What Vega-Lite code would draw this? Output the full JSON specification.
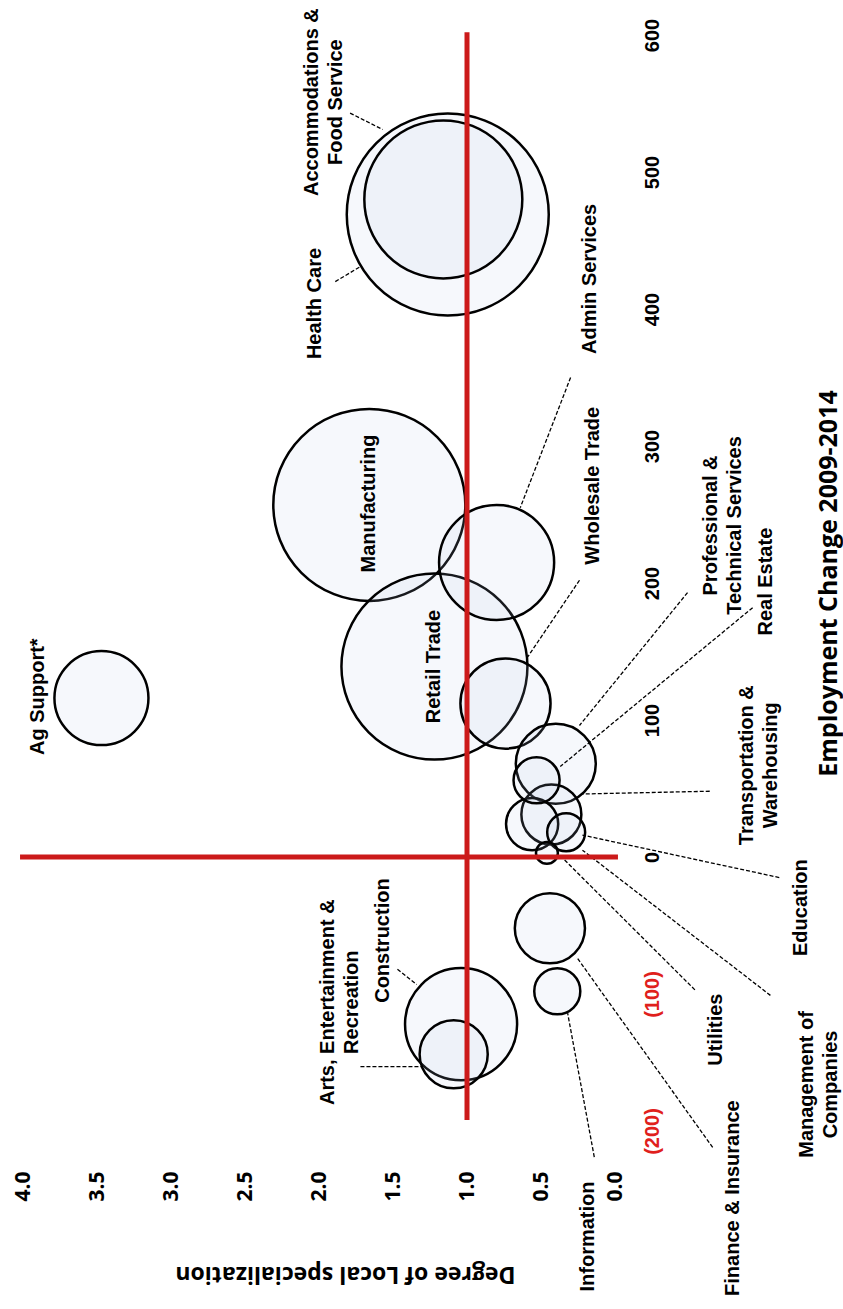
{
  "$schema": "https://vega.github.io/schema/vega-lite/v6.json",
  "width": 592,
  "height": 1096,
  "autosize": {"type": "none"},
  "padding": {"left": 23, "top": 35, "right": 228, "bottom": 178},
  "background": "white",
  "config": {"view": {"stroke": null}},
  "datasets": {
    "circles": [
      {"industry": "Health Care", "D": 1.13, "E": 469, "jobs": 1020},
      {"industry": "Manufacturing", "D": 1.66, "E": 257, "jobs": 922},
      {"industry": "Retail Trade", "D": 1.22, "E": 139, "jobs": 865},
      {"industry": "Accommodations & Food Service", "D": 1.16, "E": 480, "jobs": 624},
      {"industry": "Admin Services", "D": 0.80, "E": 215, "jobs": 331},
      {"industry": "Construction", "D": 1.04, "E": -122, "jobs": 314},
      {"industry": "Ag Support*", "D": 3.47, "E": 116, "jobs": 221},
      {"industry": "Wholesale Trade", "D": 0.74, "E": 112, "jobs": 203},
      {"industry": "Professional & Technical Services", "D": 0.40, "E": 68, "jobs": 160},
      {"industry": "Finance & Insurance", "D": 0.44, "E": -52, "jobs": 123},
      {"industry": "Arts, Entertainment & Recreation", "D": 1.09, "E": -144, "jobs": 116},
      {"industry": "Transportation & Warehousing", "D": 0.43, "E": 31, "jobs": 90},
      {"industry": "Education", "D": 0.56, "E": 24, "jobs": 68},
      {"industry": "Information", "D": 0.39, "E": -98, "jobs": 53},
      {"industry": "Real Estate", "D": 0.53, "E": 56, "jobs": 53},
      {"industry": "Management of Companies", "D": 0.33, "E": 18, "jobs": 36},
      {"industry": "Utilities", "D": 0.46, "E": 3, "jobs": 12}
    ],
    "leaders": [
      {"D": 1.79, "E": 543, "D2": 1.57, "E2": 531},
      {"D": 1.89, "E": 420, "D2": 1.72, "E2": 431},
      {"D": 0.30, "E": 350, "D2": 0.64, "E2": 255},
      {"D": 0.24, "E": 202, "D2": 0.59, "E2": 146},
      {"D": -0.49, "E": 193, "D2": 0.24, "E2": 96},
      {"D": -0.93, "E": 182, "D2": 0.37, "E2": 66},
      {"D": -0.64, "E": 48, "D2": 0.22, "E2": 46},
      {"D": -1.11, "E": -15, "D2": 0.22, "E2": 16},
      {"D": -1.05, "E": -101, "D2": 0.22, "E2": 5},
      {"D": -0.54, "E": -97, "D2": 0.37, "E2": 1},
      {"D": -0.66, "E": -212, "D2": 0.26, "E2": -73},
      {"D": 0.14, "E": -219, "D2": 0.32, "E2": -114},
      {"D": 1.47, "E": -82, "D2": 1.34, "E2": -93},
      {"D": 1.72, "E": -153, "D2": 1.30, "E2": -153}
    ],
    "refs": [
      {"D": 1, "D2": 1, "E": -192, "E2": 602},
      {"D": 4.02, "D2": -0.02, "E": 0, "E2": 0}
    ],
    "labels": [
      {"label": "Accommodations &\nFood Service", "D": 2.05, "E": 551},
      {"label": "Health Care", "D": 2.03, "E": 404},
      {"label": "Admin Services", "D": 0.17, "E": 422},
      {"label": "Manufacturing", "D": 1.66, "E": 258},
      {"label": "Wholesale Trade", "D": 0.15, "E": 271},
      {"label": "Retail Trade", "D": 1.22, "E": 139},
      {"label": "Ag Support*", "D": 3.90, "E": 117},
      {"label": "Professional &\nTechnical Services", "D": -0.65, "E": 242},
      {"label": "Real Estate", "D": -1.02, "E": 201},
      {"label": "Transportation &\nWarehousing", "D": -0.89, "E": 67},
      {"label": "Education", "D": -1.26, "E": -37},
      {"label": "Management of\nCompanies", "D": -1.30, "E": -166},
      {"label": "Utilities", "D": -0.68, "E": -126},
      {"label": "Finance & Insurance", "D": -0.80, "E": -249},
      {"label": "Information", "D": 0.18, "E": -277},
      {"label": "Construction", "D": 1.57, "E": -61},
      {"label": "Arts, Entertainment &\nRecreation", "D": 1.94, "E": -106}
    ]
  },
  "encoding": {
    "x": {
      "field": "D",
      "type": "quantitative",
      "scale": {"domain": [0, 4], "reverse": true, "nice": false, "zero": false},
      "axis": {
        "values": [0, 0.5, 1, 1.5, 2, 2.5, 3, 3.5, 4],
        "format": ".1f",
        "labelAngle": 270,
        "labelAlign": "center",
        "labelBaseline": "middle",
        "labelPadding": 55,
        "ticks": false,
        "tickSize": 0,
        "domain": false,
        "grid": false,
        "labelFlush": false,
        "labelOverlap": false,
        "labelFont": "Open Sans",
        "labelFontWeight": "bold",
        "labelFontSize": 21,
        "labelColor": "black",
        "title": "Degree of Local specialization",
        "titleAngle": 180,
        "titleX": 322,
        "titleY": 142,
        "titleAlign": "center",
        "titleBaseline": "middle",
        "titleFont": "Open Sans",
        "titleFontSize": 23,
        "titleFontWeight": "bold",
        "titleColor": "black"
      }
    },
    "y": {
      "field": "E",
      "type": "quantitative",
      "scale": {"domain": [-200, 600], "nice": false, "zero": false},
      "axis": {
        "orient": "right",
        "values": [-200, -100, 0, 100, 200, 300, 400, 500, 600],
        "labelExpr": "datum.value < 0 ? '(' + (-datum.value) + ')' : '' + datum.value",
        "labelAngle": 270,
        "labelAlign": "center",
        "labelBaseline": "top",
        "labelPadding": 27,
        "ticks": false,
        "tickSize": 0,
        "domain": false,
        "grid": false,
        "labelFlush": false,
        "labelOverlap": false,
        "labelFont": "Liberation Sans",
        "labelFontWeight": "bold",
        "labelFontSize": 20,
        "labelColor": {"condition": {"test": "datum.value < 0", "value": "#e0201c"}, "value": "black"},
        "title": "Employment Change 2009-2014",
        "titleAngle": 270,
        "titleX": 213,
        "titleY": 548,
        "titleAlign": "center",
        "titleBaseline": "middle",
        "titleFont": "Open Sans",
        "titleFontSize": 25,
        "titleFontWeight": "bold",
        "titleColor": "black"
      }
    }
  },
  "layer": [
    {
      "data": {"name": "circles"},
      "mark": {"type": "point", "shape": "circle", "filled": true, "fill": "#b8c6e4", "fillOpacity": 0.13, "stroke": "black", "strokeWidth": 2.5, "strokeOpacity": 1, "opacity": 1},
      "encoding": {
        "size": {"field": "jobs", "type": "quantitative", "scale": {"type": "linear", "domain": [0, 1000], "range": [0, 40000], "zero": true}, "legend": null}
      }
    },
    {
      "data": {"name": "leaders"},
      "mark": {"type": "rule", "color": "black", "strokeWidth": 1.3, "strokeDash": [4, 2]},
      "encoding": {
        "x2": {"field": "D2"},
        "y2": {"field": "E2"}
      }
    },
    {
      "data": {"name": "refs"},
      "mark": {"type": "rule", "color": "#cc1a1a", "strokeWidth": 5},
      "encoding": {
        "x2": {"field": "D2"},
        "y2": {"field": "E2"}
      }
    },
    {
      "data": {"name": "labels"},
      "mark": {"type": "text", "angle": 270, "align": "center", "baseline": "middle", "font": "Liberation Sans", "fontWeight": "bold", "fontSize": 20, "lineBreak": "\n", "lineHeight": 24, "color": "black"},
      "encoding": {
        "text": {"field": "label", "type": "nominal"}
      }
    }
  ]
}
